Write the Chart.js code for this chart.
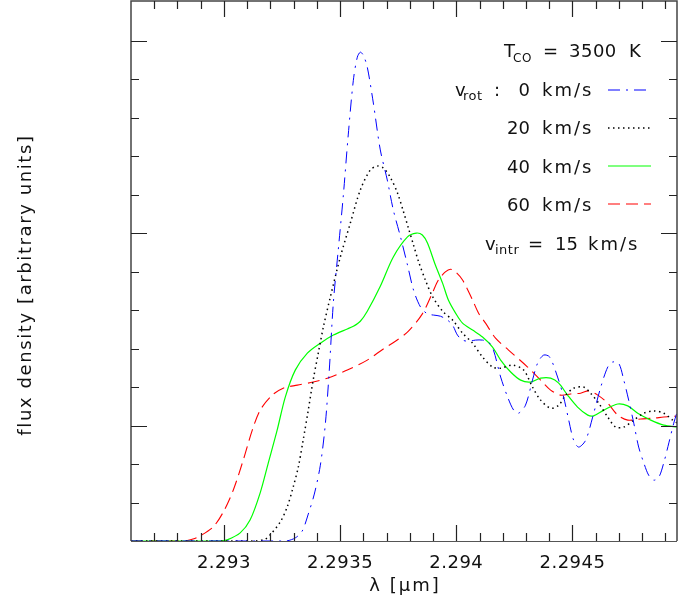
<!DOCTYPE html>
<html><head><meta charset="utf-8">
<script src="https://cdn.jsdelivr.net/npm/chart.js@4/dist/chart.umd.min.js"></script>
<style>html,body{margin:0;padding:0;background:#fff;}#wrap{width:689px;height:604px;}</style>
</head><body><div id="wrap"><canvas id="c" width="689" height="604"></canvas></div>
<script>
// ---- data (wavelength in micron, flux in arbitrary units) ----
const lamV0 = [2.2926,2.293264,2.293307,2.293337,2.293363,2.293389,2.293415,2.293436,2.293453,2.293471,2.293492,2.293514,2.293535,2.293557,2.293574,2.293587,2.293600,2.293617,2.293643,2.293673,2.293703,2.293729,2.293760,2.293790,2.293816,2.293846,2.293876,2.293902,2.293932,2.293962,2.293984,2.294005,2.294027,2.294053,2.294083,2.294113,2.294139,2.294160,2.294191,2.294221,2.294247,2.294268,2.294298,2.294328,2.294350,2.294376,2.294402,2.294436,2.294462,2.294484,2.294505,2.294527,2.294557,2.294587,2.294622,2.294652,2.294673,2.294699,2.294721,2.294742,2.294764,2.294785,2.294807,2.294828,2.294850,2.294872,2.294893,2.294915,2.294936,2.294953];
const fluxV0 = [0,0,0.08,0.26,0.70,1.22,1.97,3.01,4.40,6.20,7.56,8.99,10.55,11.97,12.57,12.70,12.62,12.31,11.38,10.16,9.38,8.60,7.90,7.17,6.52,6.08,5.90,5.87,5.84,5.74,5.61,5.35,5.22,5.19,5.22,5.22,5.17,4.96,4.26,3.74,3.40,3.32,3.53,4.18,4.62,4.83,4.78,4.26,3.74,3.14,2.62,2.44,2.62,3.22,4.00,4.52,4.65,4.62,4.18,3.66,3.06,2.44,2.03,1.71,1.58,1.66,2.03,2.55,3.06,3.40];

const lamV20 = [2.2926,2.293134,2.293178,2.293199,2.293242,2.293272,2.293298,2.293320,2.293341,2.293363,2.293384,2.293406,2.293428,2.293458,2.293501,2.293544,2.293587,2.293630,2.293660,2.293686,2.293716,2.293747,2.293772,2.293794,2.293816,2.293837,2.293867,2.293897,2.293941,2.293984,2.294027,2.294070,2.294113,2.294156,2.294191,2.294242,2.294290,2.294328,2.294363,2.294406,2.294441,2.294471,2.294505,2.294548,2.294578,2.294613,2.294652,2.294686,2.294721,2.294764,2.294807,2.294850,2.294893,2.294932,2.294953];
const fluxV20 = [0,0,0.05,0.16,0.49,0.88,1.40,1.92,2.62,3.40,4.18,4.88,5.56,6.34,7.38,8.26,9.12,9.64,9.74,9.69,9.45,9.04,8.57,8.13,7.69,7.27,6.78,6.36,5.97,5.74,5.40,5.14,4.78,4.52,4.49,4.57,4.44,4.00,3.66,3.45,3.53,3.79,3.97,4.00,3.84,3.58,3.22,2.96,2.96,3.14,3.32,3.38,3.32,3.14,3.06];

const lamV40 = [2.2926,2.292984,2.293014,2.293070,2.293113,2.293156,2.293191,2.293229,2.293264,2.293307,2.293359,2.293415,2.293471,2.293531,2.293557,2.293587,2.293617,2.293673,2.293729,2.293790,2.293828,2.293854,2.293876,2.293910,2.293941,2.293966,2.293997,2.294027,2.294070,2.294113,2.294156,2.294191,2.294234,2.294277,2.294320,2.294363,2.294406,2.294441,2.294479,2.294522,2.294566,2.294591,2.294635,2.294695,2.294738,2.294781,2.294837,2.294893,2.294953];
const fluxV40 = [0,0,0.03,0.21,0.55,1.25,2.03,2.88,3.74,4.44,4.88,5.14,5.35,5.51,5.58,5.71,5.97,6.62,7.38,7.90,8.00,7.95,7.74,7.17,6.70,6.26,5.92,5.66,5.48,5.30,5.04,4.70,4.39,4.18,4.13,4.23,4.23,4.10,3.79,3.48,3.27,3.25,3.40,3.56,3.51,3.32,3.14,3.01,2.96];

const lamV60 = [2.2926,2.292833,2.292867,2.292897,2.292953,2.292997,2.293040,2.293083,2.293122,2.293156,2.293208,2.293255,2.293316,2.293384,2.293445,2.293531,2.293617,2.293686,2.293738,2.293794,2.293854,2.293897,2.293923,2.293953,2.293975,2.293997,2.294027,2.294070,2.294096,2.294126,2.294169,2.294225,2.294307,2.294363,2.294406,2.294449,2.294492,2.294535,2.294570,2.294609,2.294652,2.294695,2.294738,2.294794,2.294846,2.294893,2.294953];
const fluxV60 = [0,0,0.05,0.13,0.36,0.75,1.32,2.10,2.88,3.40,3.79,3.97,4.05,4.13,4.23,4.44,4.70,4.99,5.19,5.45,5.90,6.44,6.78,6.99,7.06,6.99,6.78,6.26,5.92,5.66,5.27,4.96,4.52,4.18,3.92,3.79,3.82,3.84,3.90,3.79,3.58,3.27,3.14,3.17,3.19,3.22,3.25];

const seriesLabels = ['0 km/s','20 km/s','40 km/s','60 km/s'];
const xMajorTicks = [2.293, 2.2935, 2.294, 2.2945];
const xTickLabels = ['2.293','2.2935','2.294','2.2945'];
const yMajorTicks = [3, 8, 13];
const xRange = [2.2926, 2.29495];
const yRange = [0, 14.03];

// ---- styling ----
const seriesStyles = [
  {color:'#0000ff', dash:[12,6,2,6], width:1},
  {color:'#000000', dash:[1.5,3.5], width:1.5},
  {color:'#00ff00', dash:[], width:1.2},
  {color:'#ff0000', dash:[12,6], width:1.1}
];
const lamArr = [lamV0, lamV20, lamV40, lamV60];
const fluxArr = [fluxV0, fluxV20, fluxV40, fluxV60];

const datasets = lamArr.map((lam, i) => ({
  label: seriesLabels[i],
  data: lam.map((l, j) => ({x: l, y: fluxArr[i][j]})),
  borderColor: seriesStyles[i].color,
  borderDash: seriesStyles[i].dash,
  borderWidth: seriesStyles[i].width,
  pointRadius: 0,
  fill: false,
  tension: 0.3,
  clip: {left: 0, top: 0, right: 0, bottom: 2}
}));

const FONT = '"DejaVu Sans", sans-serif';
const TXT = '#111';

function text(ctx, s, x, y, size, align, spacing) {
  ctx.font = size + 'px ' + FONT;
  ctx.textAlign = align || 'left';
  ctx.textBaseline = 'alphabetic';
  ctx.letterSpacing = (spacing || 0) + 'px';
  ctx.fillText(s, x, y);
  ctx.letterSpacing = '0px';
}

const decor = {
  id: 'decor',
  afterDatasetsDraw(chart) {
    const ctx = chart.ctx, a = chart.chartArea;
    const xs = chart.scales.x, ys = chart.scales.y;
    ctx.save();
    // frame
    ctx.strokeStyle = '#444'; ctx.lineWidth = 1.5; ctx.setLineDash([]);
    ctx.beginPath();
    ctx.moveTo(a.left, a.bottom); ctx.lineTo(a.left, a.top); ctx.lineTo(a.right, a.top); ctx.lineTo(a.right, a.bottom);
    ctx.stroke();
    // ticks
    ctx.strokeStyle = '#222'; ctx.lineWidth = 1.2;
    ctx.beginPath();
    for (let k = 1; k <= 23; k++) {
      const v = xRange[0] + k * 0.0001;
      const px = Math.round(xs.getPixelForValue(v)) + 0.5;
      const major = xMajorTicks.some(m => Math.abs(m - v) < 1e-7);
      const L = major ? 16 : 8;
      ctx.moveTo(px, a.bottom); ctx.lineTo(px, a.bottom - L);
      ctx.moveTo(px, a.top); ctx.lineTo(px, a.top + L);
    }
    for (let k = 1; k <= 13; k++) {
      const py = Math.round(ys.getPixelForValue(k)) + 0.5;
      const major = yMajorTicks.includes(k);
      const L = major ? 16 : 8;
      ctx.moveTo(a.left, py); ctx.lineTo(a.left + L, py);
      ctx.moveTo(a.right, py); ctx.lineTo(a.right - L, py);
    }
    ctx.stroke();
    // bottom axis line
    ctx.strokeStyle = '#555'; ctx.lineWidth = 1;
    ctx.beginPath(); ctx.moveTo(a.left, a.bottom + 0.5); ctx.lineTo(a.right, a.bottom + 0.5); ctx.stroke();
    // tick labels
    ctx.fillStyle = TXT;
    xMajorTicks.forEach((v, i) => {
      text(ctx, xTickLabels[i], xs.getPixelForValue(v), 568, 18, 'center', 0.5);
    });
    // axis titles
    text(ctx, 'λ [μm]', (a.left + a.right) / 2 + 1, 591, 18, 'center', 2);
    ctx.save();
    ctx.translate(31, 285);
    ctx.rotate(-Math.PI / 2);
    text(ctx, 'flux density [arbitrary units]', 0, 0, 18, 'center', 1.6);
    ctx.restore();

    // annotation block
    text(ctx, 'T', 504, 57, 18, 'left', 0);
    text(ctx, 'CO', 513, 62, 12, 'left', 0.5);
    text(ctx, '=', 543, 57, 18, 'left', 0);
    text(ctx, '3500', 569, 57, 18, 'left', 0.5);
    text(ctx, 'K', 629, 57, 18, 'left', 0);

    text(ctx, 'v', 455, 96, 18, 'left', 0);
    text(ctx, 'rot', 463, 100, 13, 'left', 0.5);
    text(ctx, ':', 494, 96, 18, 'left', 0);

    const rowBase = [96, 134, 173, 211];
    const lineY = [90, 128, 166, 204];
    seriesLabels.forEach((lab, i) => {
      const parts = lab.split(' ');
      text(ctx, parts[0], 530, rowBase[i], 18, 'right', 0);
      text(ctx, parts[1], 542, rowBase[i], 18, 'left', 2);
      const st = seriesStyles[i];
      ctx.strokeStyle = st.color; ctx.lineWidth = st.width;
      ctx.setLineDash(st.dash);
      ctx.beginPath(); ctx.moveTo(608, lineY[i]); ctx.lineTo(651, lineY[i]); ctx.stroke();
      ctx.setLineDash([]);
    });

    text(ctx, 'v', 485, 250, 18, 'left', 0);
    text(ctx, 'intr', 495, 254, 13, 'left', 0.5);
    text(ctx, '=', 528, 250, 18, 'left', 0);
    text(ctx, '15', 555, 250, 18, 'left', 0);
    text(ctx, 'km/s', 588, 250, 18, 'left', 2);
    ctx.restore();
  }
};

new Chart(document.getElementById('c'), {
  type: 'line',
  data: { datasets },
  options: {
    responsive: false,
    animation: false,
    devicePixelRatio: 1,
    layout: { padding: { left: 131, right: 12, top: 1, bottom: 63 } },
    scales: {
      x: { type: 'linear', min: xRange[0], max: xRange[1], display: false },
      y: { type: 'linear', min: yRange[0], max: yRange[1], display: false }
    },
    plugins: { legend: { display: false }, tooltip: { enabled: false }, title: { display: false } }
  },
  plugins: [decor]
});
</script></body></html>
